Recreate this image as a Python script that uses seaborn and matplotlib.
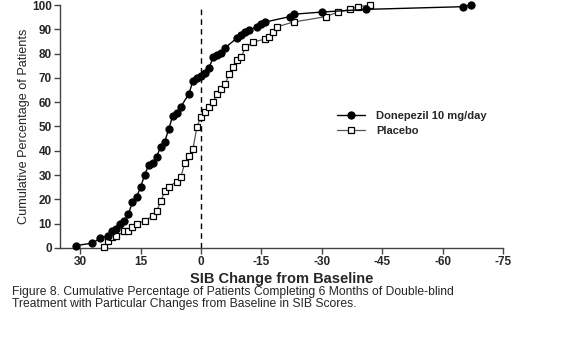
import matplotlib
matplotlib.use("Agg")
import matplotlib.pyplot as plt
import seaborn as sns
import pandas as pd

# SIB change from baseline (positive = improvement, axis runs high to low)
donepezil_x = [31, 27, 25, 23, 22, 21, 20, 19, 18, 17, 16, 15, 14, 13, 12, 11, 10, 9, 8, 7,
               6, 5, 3, 2, 1, 0, -1, -2, -3, -4, -5, -6, -9, -10, -11, -12, -14, -15, -16,
               -22, -23, -30, -41, -65, -67]
donepezil_y = [1, 2, 4, 5, 7, 8, 10, 11, 14, 19, 21, 25, 30, 34, 35, 37.6, 41.7, 43.7, 49, 54.4,
               55.4, 58.1, 63.4, 68.7, 69.8, 70.8, 72, 74, 78.5, 79.5, 80.4, 82.4, 86.5, 87.8, 88.9,
               89.8, 91.1, 92.2, 93.0, 95.2, 96.2, 97.1, 98.2, 99.3, 100]

placebo_x = [24, 23, 22, 21, 19, 18, 17, 16, 14, 12, 11, 10, 9, 8, 6, 5, 4, 3, 2, 1, 0,
             -1, -2, -3, -4, -5, -6, -7, -8, -9, -10, -11, -13, -16, -17, -18, -19, -23,
             -31, -34, -37, -39, -42]
placebo_y = [0.5, 3, 4.4, 4.9, 6.9, 7.1, 8.8, 10, 11.2, 13.2, 15.1, 19.2, 23.3, 25.2, 27.3, 29.3,
             34.9, 37.8, 40.6, 49.9, 54, 56.1, 58.1, 60.2, 63.4, 65.3, 67.5, 71.5, 74.6, 77.4,
             78.5, 82.6, 84.8, 86, 87, 88.9, 91.1, 93, 95.2, 97.1, 98.2, 99.3, 100]

x_ticks = [30, 15, 0, -15, -30, -45, -60, -75]
y_ticks = [0, 10, 20, 30, 40, 50, 60, 70, 80, 90, 100]

sns.set_theme(style="ticks")
plt.rcParams["font.family"] = ["Liberation Sans", "DejaVu Sans"]

fig = plt.figure(figsize=(5.8, 3.41), dpi=100)
ax = fig.add_axes([60 / 580, 1 - 248 / 341, (503 - 60) / 580, (248 - 5) / 341])

don = pd.DataFrame({"x": donepezil_x, "y": donepezil_y})
pla = pd.DataFrame({"x": placebo_x, "y": placebo_y})

ax.axvline(0, color="black", lw=1, ls=(0, (4, 3)), zorder=1)

sns.lineplot(data=pla, x="x", y="y", sort=False, estimator=None, ax=ax,
             color="#555555", lw=0.9, marker="s", markersize=4.6,
             markerfacecolor="white", markeredgecolor="black", markeredgewidth=0.9,
             label="Placebo", clip_on=False, zorder=3)
sns.lineplot(data=don, x="x", y="y", sort=False, estimator=None, ax=ax,
             color="black", lw=1.0, marker="o", markersize=5.2,
             markerfacecolor="black", markeredgecolor="black",
             label="Donepezil 10 mg/day", clip_on=False, zorder=4)

ax.set_xlim(35, -75)
ax.set_ylim(0, 100)
ax.set_xticks(x_ticks)
ax.set_xticklabels([str(v) for v in x_ticks])
ax.set_yticks(y_ticks)
ax.tick_params(axis="both", length=4, width=1, color="#444444", labelsize=8.5)
ax.tick_params(axis="x", pad=2)
ax.tick_params(axis="y", pad=2)
for lab in ax.get_xticklabels() + ax.get_yticklabels():
    lab.set_fontweight("bold")

for side in ["top", "right"]:
    ax.spines[side].set_visible(False)
for side in ["left", "bottom"]:
    ax.spines[side].set_color("#444444")
    ax.spines[side].set_linewidth(1)

ax.set_xlabel("SIB Change from Baseline", fontsize=10.5, fontweight="bold", labelpad=2.8)
ax.set_ylabel("Cumulative Percentage of Patients", fontsize=9.1, labelpad=1.5)

handles, labels = ax.get_legend_handles_labels()
order = [labels.index("Donepezil 10 mg/day"), labels.index("Placebo")]
ax.legend([handles[i] for i in order], [labels[i] for i in order],
          loc="upper left", bbox_to_anchor=(0.616, 0.582), frameon=False,
          prop={"size": 8, "weight": "bold"}, handlelength=2.5,
          handletextpad=1.0, labelspacing=0.45, borderaxespad=0)

fig.text(12 / 580, 1 - 285.5 / 341,
         "Figure 8. Cumulative Percentage of Patients Completing 6 Months of Double-blind\n"
         "Treatment with Particular Changes from Baseline in SIB Scores.",
         fontsize=8.75, va="top", ha="left", linespacing=1.07)

fig.savefig("out.png", dpi=100)
